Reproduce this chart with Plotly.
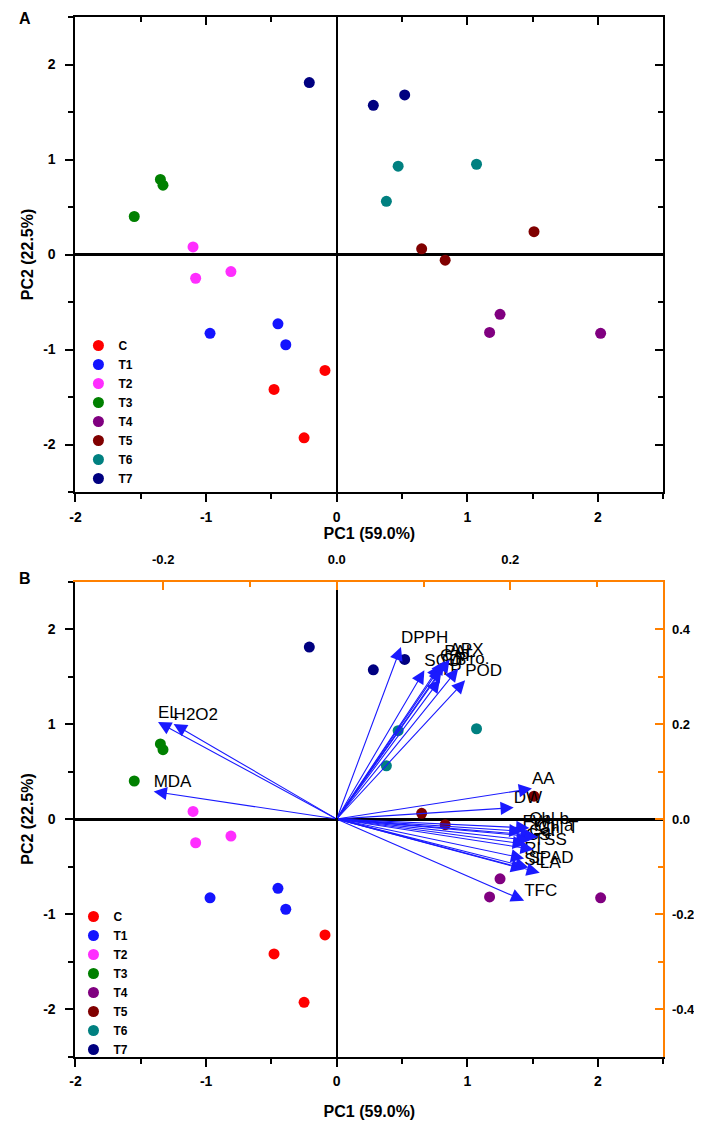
import plotly.graph_objects as go

# PCA score plot (A) and biplot (B)
group_names = ["C", "T1", "T2", "T3", "T4", "T5", "T6", "T7"]
group_colors = ["#ff0000", "#1414ff", "#ff2eff", "#008000",
                "#800080", "#800000", "#008080", "#000080"]

score_pc1 = [
    [-0.09, -0.48, -0.25],
    [-0.97, -0.45, -0.39],
    [-1.10, -1.08, -0.81],
    [-1.35, -1.33, -1.55],
    [1.25, 1.17, 2.02],
    [0.65, 0.83, 1.51],
    [0.47, 0.38, 1.07],
    [-0.21, 0.28, 0.52],
]
score_pc2 = [
    [-1.22, -1.42, -1.93],
    [-0.83, -0.73, -0.95],
    [0.08, -0.25, -0.18],
    [0.79, 0.73, 0.40],
    [-0.63, -0.82, -0.83],
    [0.06, -0.06, 0.24],
    [0.93, 0.56, 0.95],
    [1.81, 1.57, 1.68],
]

loading_names = ["DPPH", "SOD", "CAT", "PAL", "APX", "GB", "Pro.", "TP", "POD",
                 "EL", "H2O2", "MDA",
                 "AA", "DW", "Chl b", "FW", "Chl a", "Chl T", "Car", "GS",
                 "TSS", "RL", "SPAD", "SL", "LA", "TFC"]
loading_pc1 = [0.074, 0.101, 0.119, 0.124, 0.130, 0.121, 0.140, 0.119, 0.148,
               -0.206, -0.188, -0.211,
               0.225, 0.204, 0.222, 0.214, 0.227, 0.232, 0.222, 0.218,
               0.227, 0.216, 0.221, 0.216, 0.234, 0.216]
loading_pc2 = [0.362, 0.313, 0.324, 0.332, 0.336, 0.316, 0.317, 0.294, 0.292,
               0.204, 0.200, 0.058,
               0.064, 0.024, -0.019, -0.026, -0.034, -0.038, -0.045, -0.053,
               -0.064, -0.083, -0.102, -0.106, -0.113, -0.172]

score_ticks = [-2, -1, 0, 1, 2]
score_tick_text = ["-2", "-1", "0", "1", "2"]
loading_ticks = [-0.4, -0.2, 0.0, 0.2, 0.4]
loading_tick_text = ["-0.4", "-0.2", "0.0", "0.2", "0.4"]

FONT = "Liberation Sans, Arial, sans-serif"
ORANGE = "#ff8000"
ARROW = "#1a1aff"
# the page body keeps an 8px margin, so the figure is 8px smaller than the window
OFF = 8
W, H = 702 - OFF, 1125 - OFF


def px_x(v):
    return (v - OFF) / W


def px_y(v):
    return 1 - (v - OFF) / H


x_dom = [px_x(70), px_x(663)]
a_dom = [px_y(492), px_y(17)]
b_dom = [px_y(1056.5), px_y(581.5)]

tick_font = dict(family=FONT, size=14, color="black", weight="bold")
title_font = dict(family=FONT, size=16, color="black", weight="bold")


def score_axis(rng, title, domain, anchor, standoff):
    return dict(
        range=rng, domain=domain, anchor=anchor,
        tickmode="array", tickvals=score_ticks, ticktext=score_tick_text,
        ticks="outside", ticklen=8, tickwidth=2, tickcolor="black",
        minor=dict(dtick=0.5, tick0=0, ticks="outside", ticklen=5,
                   tickwidth=1.5, tickcolor="black"),
        showline=True, linecolor="black", linewidth=2,
        showgrid=False, zeroline=True, zerolinecolor="black",
        tickfont=tick_font, ticklabelstandoff=3,
        title=dict(text=title, font=title_font, standoff=standoff),
    )


def inside_axis(rng, overlay, anchor, side, color, dtick, labels=None, texts=None, gap=0):
    ax = dict(
        range=rng, overlaying=overlay, anchor=anchor, side=side,
        ticks="inside", ticklen=8, tickwidth=2, tickcolor=color,
        minor=dict(dtick=dtick / 2, tick0=0, ticks="inside", ticklen=5,
                   tickwidth=1.5, tickcolor=color),
        showgrid=False, zeroline=False,
        showline=color != "black", linecolor=color, linewidth=2,
    )
    if labels is None:
        ax.update(tickmode="linear", dtick=dtick, tick0=0, showticklabels=False)
    else:
        ax.update(tickmode="array", tickvals=labels, ticktext=texts,
                  tickfont=dict(family=FONT, size=13, color="black", weight="bold"),
                  ticklabelstandoff=gap)
    return ax


fig = go.Figure()

# panel A and the score part of panel B
for legend, xa, ya in [("legend", "x", "y"), ("legend2", "x2", "y2")]:
    for name, color, px, py in zip(group_names, group_colors, score_pc1, score_pc2):
        fig.add_trace(go.Scatter(
            x=px, y=py, mode="markers", name=name,
            marker=dict(size=11, color=color),
            xaxis=xa, yaxis=ya, legend=legend,
        ))

# placeholder so the inner tick axes of panel A are drawn
fig.add_trace(go.Scatter(x=[], y=[], xaxis="x4", yaxis="y4", showlegend=False))

# loading labels
fig.add_trace(go.Scatter(
    x=loading_pc1, y=loading_pc2, mode="text", text=loading_names,
    textposition="top right", textfont=dict(family=FONT, size=17, color="black"),
    xaxis="x3", yaxis="y3", showlegend=False, hoverinfo="skip",
))

# loading arrows from the origin
for lx, ly in zip(loading_pc1, loading_pc2):
    fig.add_annotation(
        x=lx, y=ly, ax=0, ay=0, xref="x3", yref="y3", axref="x3", ayref="y3",
        text="", showarrow=True, arrowhead=2, arrowsize=2.4, arrowwidth=1.1,
        arrowcolor=ARROW, standoff=0,
    )

load_xr = [-2 * 132.5 / 880, 2.5 * 132.5 / 880]

ax_a_x = score_axis([-2, 2.5], "PC1 (59.0%)", x_dom, "y", 0)
ax_a_y = score_axis([-2.5, 2.5], "PC2 (22.5%)", a_dom, "x", 6)
ax_a_x.update(mirror=True, zerolinewidth=1.5)
ax_a_y.update(mirror=True, zerolinewidth=2.5, ticklabelstandoff=7)
ax_b_x = score_axis([-2, 2.5], "PC1 (59.0%)", x_dom, "y2", 18)
ax_b_y = score_axis([-2.5, 2.5], "PC2 (22.5%)", b_dom, "x2", 6)
ax_b_x.update(zerolinewidth=1.5)
ax_b_y.update(zerolinewidth=2.5, ticklabelstandoff=7)

legend_font = dict(family=FONT, size=12, weight="bold", color="black")

fig.update_layout(
    width=W, height=H,
    margin=dict(l=0, r=0, t=0, b=0),
    paper_bgcolor="white", plot_bgcolor="white",
    font=dict(family=FONT, color="black"),
    xaxis=ax_a_x, yaxis=ax_a_y,
    xaxis2=ax_b_x, yaxis2=ax_b_y,
    xaxis3=inside_axis(load_xr, "x2", "y2", "top", ORANGE, 0.2,
                       [-0.2, 0.0, 0.2], ["-0.2", "0.0", "0.2"], gap=10),
    yaxis3=inside_axis([-0.5, 0.5], "y2", "x2", "right", ORANGE, 0.2,
                       loading_ticks, loading_tick_text, gap=4),
    xaxis4=inside_axis([-2, 2.5], "x", "y", "top", "black", 1),
    yaxis4=inside_axis([-2.5, 2.5], "y", "x", "right", "black", 1),
    legend=dict(x=px_x(73), y=px_y(331), xanchor="left", yanchor="top",
                bgcolor="rgba(0,0,0,0)", font=legend_font, tracegroupgap=0),
    legend2=dict(x=px_x(68), y=px_y(902), xanchor="left", yanchor="top",
                 bgcolor="rgba(0,0,0,0)", font=legend_font, tracegroupgap=0),
    showlegend=True,
)

fig.add_annotation(text="A", x=px_x(19), y=1, xref="paper", yref="paper",
                   xanchor="center", yanchor="top", showarrow=False,
                   font=dict(family=FONT, size=16, weight="bold"))
fig.add_annotation(text="B", x=px_x(19), y=px_y(578), xref="paper", yref="paper",
                   xanchor="center", yanchor="middle", showarrow=False,
                   font=dict(family=FONT, size=16, weight="bold"))

fig.write_html("out.html")
